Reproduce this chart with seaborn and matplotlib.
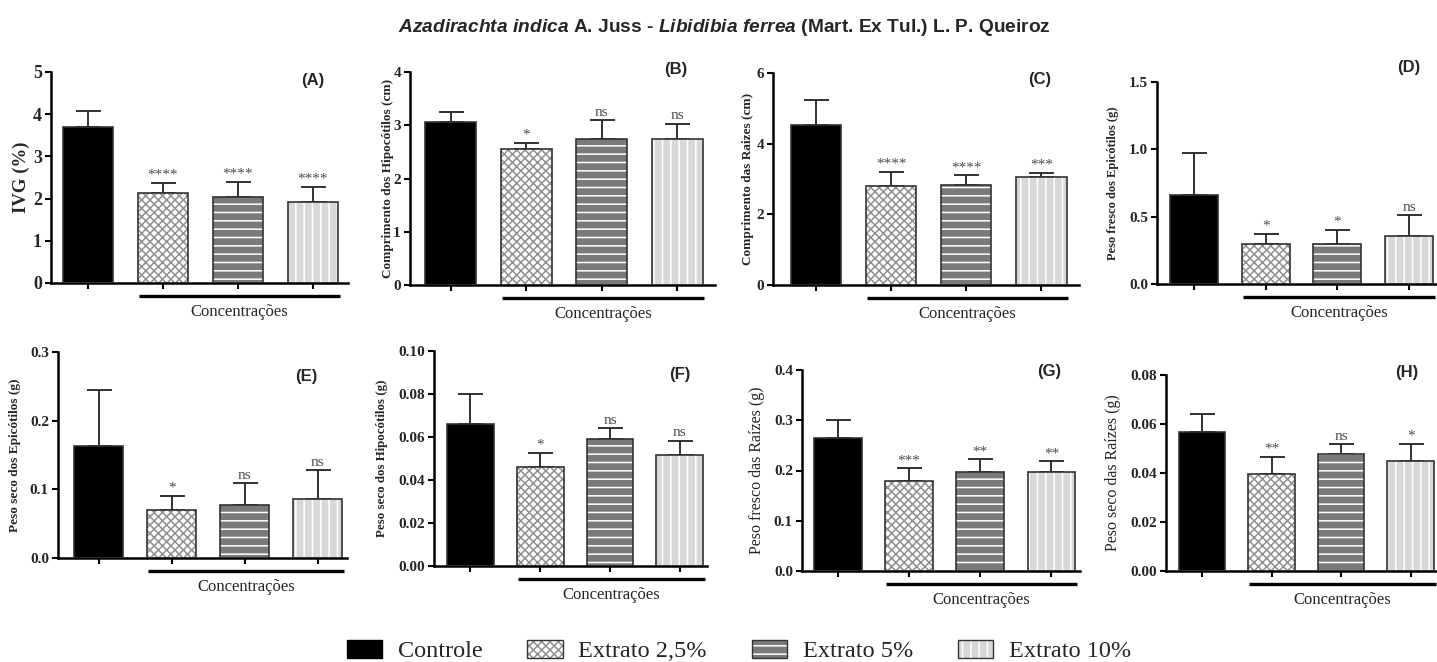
import numpy as np
import pandas as pd
import matplotlib
matplotlib.use("Agg")
import matplotlib.pyplot as plt
import matplotlib.transforms as mtransforms
from matplotlib.patches import Patch
from matplotlib.legend_handler import HandlerTuple
import seaborn as sns

# ---------------- data ----------------
grupos = ["Controle", "Extrato 2,5%", "Extrato 5%", "Extrato 10%"]

ivg_media = [3.70, 2.14, 2.03, 1.91]
ivg_erro = [0.38, 0.23, 0.36, 0.36]
ivg_sig = ["", "****", "****", "****"]

comp_hip_media = [3.06, 2.56, 2.75, 2.74]
comp_hip_erro = [0.19, 0.11, 0.35, 0.29]
comp_hip_sig = ["", "*", "ns", "ns"]

comp_raiz_media = [4.54, 2.79, 2.84, 3.07]
comp_raiz_erro = [0.69, 0.42, 0.26, 0.10]
comp_raiz_sig = ["", "****", "****", "***"]

pf_epi_media = [0.66, 0.296, 0.300, 0.353]
pf_epi_erro = [0.315, 0.077, 0.100, 0.158]
pf_epi_sig = ["", "*", "*", "ns"]

ps_epi_media = [0.163, 0.0706, 0.077, 0.086]
ps_epi_erro = [0.081, 0.020, 0.032, 0.042]
ps_epi_sig = ["", "*", "ns", "ns"]

ps_hip_media = [0.066, 0.0462, 0.0592, 0.0518]
ps_hip_erro = [0.0138, 0.0065, 0.0050, 0.0065]
ps_hip_sig = ["", "*", "ns", "ns"]

pf_raiz_media = [0.265, 0.180, 0.198, 0.198]
pf_raiz_erro = [0.035, 0.024, 0.024, 0.020]
pf_raiz_sig = ["", "***", "**", "**"]

ps_raiz_media = [0.0567, 0.0396, 0.0479, 0.0450]
ps_raiz_erro = [0.0072, 0.0068, 0.0038, 0.0070]
ps_raiz_sig = ["", "**", "ns", "*"]

ylabels = [
    "IVG (%)",
    "Comprimento dos Hipocótilos (cm)",
    "Comprimento das Raizes (cm)",
    "Peso fresco dos Epicótilos (g)",
    "Peso seco dos Epicótilos (g)",
    "Peso seco dos Hipocótilos (g)",
    "Peso fresco das Raízes (g)",
    "Peso seco das Raízes (g)",
]
panel_letters = ["(A)", "(B)", "(C)", "(D)", "(E)", "(F)", "(G)", "(H)"]
yticks_list = [
    [0, 1, 2, 3, 4, 5],
    [0, 1, 2, 3, 4],
    [0, 2, 4, 6],
    [0.0, 0.5, 1.0, 1.5],
    [0.0, 0.1, 0.2, 0.3],
    [0.00, 0.02, 0.04, 0.06, 0.08, 0.10],
    [0.0, 0.1, 0.2, 0.3, 0.4],
    [0.00, 0.02, 0.04, 0.06, 0.08],
]
ytick_fmt = ["{:.0f}", "{:.0f}", "{:.0f}", "{:.1f}", "{:.1f}", "{:.2f}", "{:.1f}", "{:.2f}"]

medias = [ivg_media, comp_hip_media, comp_raiz_media, pf_epi_media,
          ps_epi_media, ps_hip_media, pf_raiz_media, ps_raiz_media]
erros = [ivg_erro, comp_hip_erro, comp_raiz_erro, pf_epi_erro,
         ps_epi_erro, ps_hip_erro, pf_raiz_erro, ps_raiz_erro]
sigs = [ivg_sig, comp_hip_sig, comp_raiz_sig, pf_epi_sig,
        ps_epi_sig, ps_hip_sig, pf_raiz_sig, ps_raiz_sig]

# ---------------- styles ----------------
W, H = 1437, 662
sns.set_style("ticks")
plt.rcParams["font.family"] = ["Liberation Serif", "DejaVu Serif"]
plt.rcParams["hatch.linewidth"] = 1.1
plt.rcParams["mathtext.fontset"] = "custom"
plt.rcParams["mathtext.it"] = "Liberation Sans:italic:bold"
plt.rcParams["mathtext.rm"] = "Liberation Sans:bold"

face = {"Controle": "#000000", "Extrato 2,5%": "#ffffff",
        "Extrato 5%": "#7a7a7a", "Extrato 10%": "#d8d8d8"}
hatch = {"Controle": None, "Extrato 2,5%": "xxxx",
         "Extrato 5%": "--", "Extrato 10%": "||"}
hatch_col = {"Controle": "#000000", "Extrato 2,5%": "#909090",
             "Extrato 5%": "#ffffff", "Extrato 10%": "#ffffff"}

# axes pixel boxes: x0, x1, y0(top), y1(bottom), xlim
boxes = [
    (51, 348, 72, 283, (-0.49, 3.47)),
    (410, 715, 72, 285, (-0.54, 3.50)),
    (773, 1079, 73, 285, (-0.57, 3.50)),
    (1157, 1437, 82, 284, (-0.52, 3.39)),
    (58, 347, 352, 558, (-0.56, 3.40)),
    (434, 707, 351, 566, (-0.52, 3.39)),
    (802, 1080, 370, 571, (-0.50, 3.40)),
    (1166, 1437, 375, 571, (-0.52, 3.38)),
]
label_x = [-0.10, -0.072, -0.082, -0.157, -0.149, -0.19, -0.162, -0.196]
label_size = [13.5, 9.5, 9.5, 9.0, 9.5, 9.3, 11.5, 11.5]
label_weight = ["bold"] * 6 + ["normal", "normal"]
tick_size = [13, 11, 11, 11, 11, 11, 11, 11]
letter_pos = [(0.88, 0.96), (0.87, 1.01), (0.87, 0.97), (0.90, 1.07),
              (0.86, 0.88), (0.90, 0.89), (0.89, 0.995), (0.89, 1.015)]

fig = plt.figure(figsize=(W / 100, H / 100), dpi=100)

for i in range(8):
    x0, x1, y0, y1, xl = boxes[i]
    ax = fig.add_axes([x0 / W, 1 - y1 / H, (x1 - x0) / W, (y1 - y0) / H])
    df = pd.DataFrame({"grupo": grupos, "valor": medias[i]})
    sns.barplot(data=df, x="grupo", y="valor", hue="grupo", order=grupos,
                hue_order=grupos, palette=face, saturation=1, width=0.67,
                errorbar=None, legend=False, linewidth=0, ax=ax)
    for p, g in zip(ax.patches, grupos):
        p.set_hatch(hatch[g])
        p.set_edgecolor(hatch_col[g])
        p.set_linewidth(0)
        p.set_zorder(2)
    sns.barplot(data=df, x="grupo", y="valor", order=grupos, width=0.67,
                errorbar=None, fill=False, color="#333333", linewidth=1.2, ax=ax)
    for p in ax.patches[4:]:
        p.set_zorder(3)
    xs = np.arange(len(grupos))
    ax.errorbar(xs, medias[i], yerr=[np.zeros(len(grupos)), erros[i]],
                fmt="none", ecolor="#222222", elinewidth=1.3, capsize=9,
                capthick=1.3, zorder=1)
    for xi, m, e, s in zip(xs, medias[i], erros[i], sigs[i]):
        if s:
            ax.annotate(s, (xi, m + e), xytext=(0, 1), textcoords="offset points",
                        ha="center", va="bottom", fontsize=11, color="#4d4d4d")

    ax.set_xlim(*xl)
    yt = yticks_list[i]
    ax.set_ylim(0, yt[-1])
    ax.set_yticks(yt)
    ax.set_yticklabels([ytick_fmt[i].format(v) for v in yt],
                       fontsize=tick_size[i], fontweight="bold")
    ax.set_xticks(xs)
    ax.set_xticklabels([])
    ax.set_xlabel("")
    ax.set_ylabel(ylabels[i], fontsize=label_size[i], fontweight=label_weight[i],
                  va="center")
    ax.yaxis.set_label_coords(label_x[i], 0.5)
    sns.despine(ax=ax)
    for sp in ["left", "bottom"]:
        ax.spines[sp].set_linewidth(1.8)
        ax.spines[sp].set_color("black")
    ax.tick_params(axis="both", direction="out", length=4.5, width=1.5,
                   color="black", pad=2)

    # group underline + text
    trans = mtransforms.blended_transform_factory(ax.transData, ax.transAxes)
    line_tr = mtransforms.offset_copy(trans, fig=fig, y=-9.5, units="points")
    ax.plot([0.68, 3.36], [0, 0], color="black", lw=2.4, transform=line_tr,
            clip_on=False, solid_capstyle="butt")
    txt_tr = mtransforms.offset_copy(trans, fig=fig, y=-21, units="points")
    ax.text(2.02, 0, "Concentrações", transform=txt_tr, ha="center", va="center",
            fontsize=12)

    ax.text(letter_pos[i][0], letter_pos[i][1], panel_letters[i],
            transform=ax.transAxes, ha="center", va="center", fontsize=12,
            fontweight="bold", family="Liberation Sans")

# title
fig.text(724 / W, 1 - 27 / H,
         r"$Azadirachta\ indica$ A. Juss - $Libidibia\ ferrea$ (Mart. Ex Tul.) L. P. Queiroz",
         ha="center", va="center", fontsize=13.8, fontweight="bold",
         family="Liberation Sans")

# legend
handles = []
for g in grupos:
    hp = Patch(facecolor=face[g], hatch=hatch[g], edgecolor=hatch_col[g], linewidth=0)
    op = Patch(facecolor="none", edgecolor="#333333" if g != "Controle" else "black",
               linewidth=1.0)
    handles.append((hp, op))
fig.legend(handles, grupos, handler_map={tuple: HandlerTuple(ndivide=1)},
           loc="center", bbox_to_anchor=(739 / W, 1 - 651 / H), ncol=4,
           frameon=False, prop={"family": "Liberation Serif", "size": 17.5},
           handlelength=1.45, handleheight=0.75, handletextpad=0.65,
           columnspacing=1.85)

fig.savefig("out.png", dpi=100)
